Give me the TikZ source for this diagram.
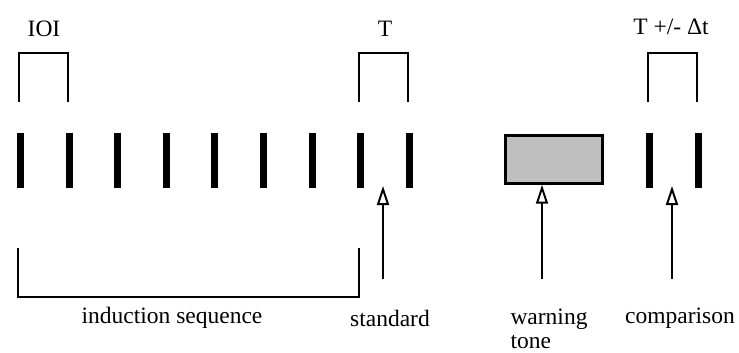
\documentclass[tikz,border=0pt]{standalone}
\usepackage{fontspec}
\setmainfont{Liberation Serif}
\usepackage{tikz}
\usetikzlibrary{positioning,calc,arrows.meta}

\tikzset{
  tonebar/.style={fill=black, minimum width=7pt, minimum height=55pt, inner sep=0pt},
  warnbox/.style={draw=black, line width=2.4pt, fill=gray!50, minimum width=97pt, minimum height=48pt, inner sep=0pt},
  bracket/.style={line width=1.8pt},
  marker/.style={line width=1.8pt, -{Triangle[open, length=19pt, width=12pt, line width=2pt]}},
  lbl/.style={font=\fontsize{23.5}{24}\selectfont, inner sep=0pt}
}

\begin{document}
\begin{tikzpicture}[x=1pt, y=-1pt]
    \useasboundingbox (0,0) rectangle (739,353);

    % induction sequence and standard
    \foreach \i in {1,...,9}
        \node[tonebar] (b\i) at ({20.5+48.6*(\i-1)},160.5) {};

    % warning tone and comparison
    \node[warnbox] (warn) at (554,159.5) {};
    \node[tonebar] (c1) at (649,160.5) {};
    \node[tonebar] (c2) at (698,160.5) {};

    % brackets
    \draw[bracket] (19,102) -- (19,53) -- (68,53) -- (68,102);
    \draw[bracket] (359,102) -- (359,53) -- (408,53) -- (408,102);
    \draw[bracket] (648,102) -- (648,53) -- (697,53) -- (697,102);
    \draw[bracket] (18,248) -- (18,297) -- (359,297) -- (359,248);

    \node[lbl] (ioi) at (44,29) {IOI};
    \node[lbl] (tlab) at (385,29) {T};
    \node[lbl] (tdlab) at (671,27) {T +/- Δt};

    % arrows
    \coordinate (s0) at (383,279);
    \coordinate (s1) at (383,186);
    \coordinate (w0) at (542,279);
    \coordinate (c0) at (672,279);
    \coordinate (c3) at (672,186);
    \draw[marker] (s0) -- (s1);
    \draw[marker] (w0) -- (w0 |- warn.south);
    \draw[marker] (c0) -- (c3);

    \node[lbl] (indlab) at (172,318) {induction sequence};
    \node[lbl] (stdlab) at (390,318) {standard};
    \node[lbl, align=left] (warnlab) at (549,329) {warning\\tone};
    \node[lbl] (cmplab) at (680,318) {comparison};
\end{tikzpicture}
\end{document}
